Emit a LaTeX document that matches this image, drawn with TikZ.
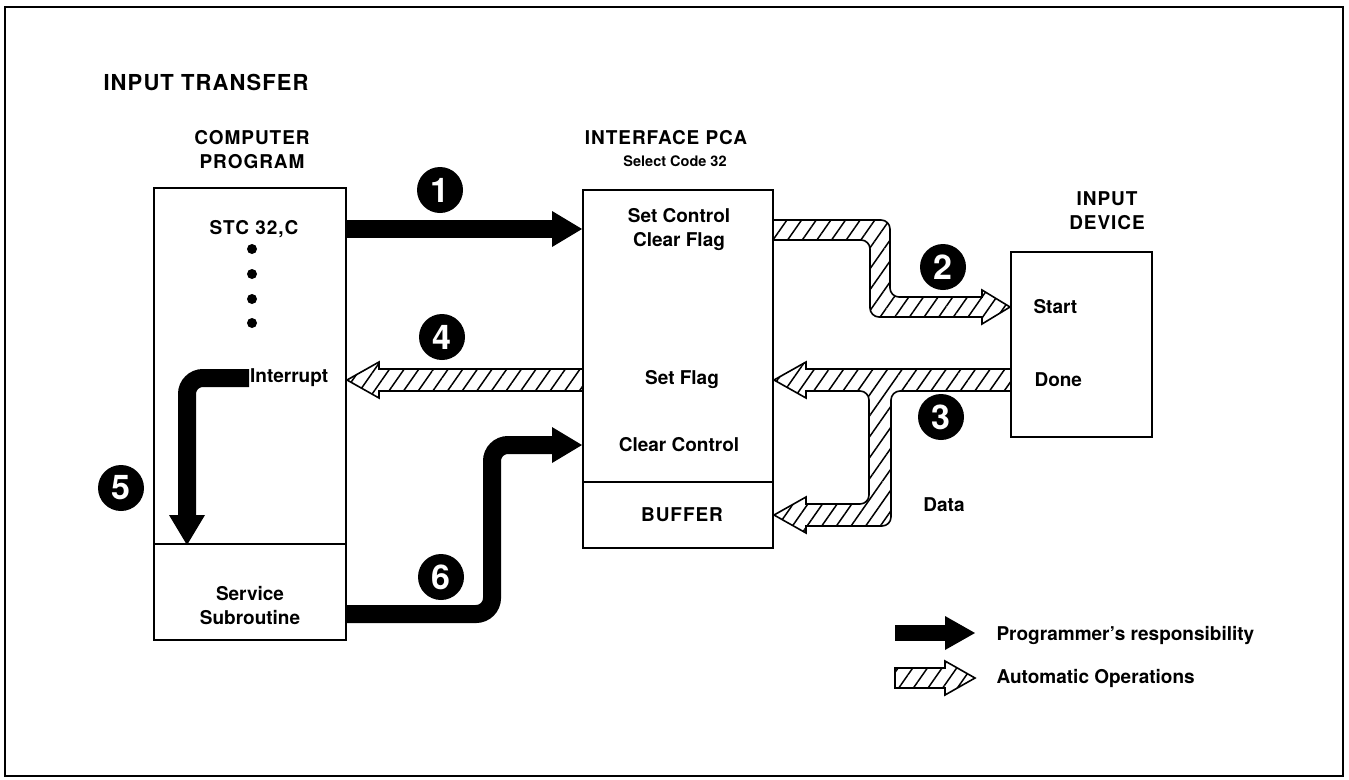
\documentclass[tikz,border=0pt]{standalone}
\usepackage{fontspec}
\setmainfont{TeX Gyre Heros}
\usetikzlibrary{calc,arrows.meta,patterns.meta}

\tikzset{
  box/.style={draw, line width=2pt, inner sep=0pt},
  lbl/.style={font=\fontsize{19}{24}\selectfont\bfseries, align=center},
  caps/.style={lbl, font=\fontsize{19}{24}\selectfont\bfseries\addfontfeature{LetterSpace=5}},
  small/.style={font=\fontsize{14.5}{17}\selectfont\bfseries},
  badge/.style={circle, fill=black, text=white, minimum size=46pt, inner sep=0pt,
    font=\fontsize{34}{34}\selectfont\bfseries},
  dot/.style={circle, fill=black, minimum size=10pt, inner sep=0pt},
  progarrow/.style={line width=18pt, -{Triangle[length=30pt,width=36pt,line width=0pt]}},
  autoarrow/.style={draw, line width=1.6pt,
    pattern={Lines[angle=55,distance=12pt,line width=1.5pt]}}
}

\begin{document}
\begin{tikzpicture}[x=1pt,y=-1pt]
\useasboundingbox (0,0) rectangle (1349,779);
\draw[line width=1.6pt] (5,7) rectangle (1343,776);

% headings
\node[caps, font=\fontsize{22}{24}\selectfont\bfseries\addfontfeature{LetterSpace=5}, anchor=west] (title) at (100,82) {INPUT TRANSFER};
\node[caps] (proghead) at (252,150) {COMPUTER\\PROGRAM};
\node[caps] (pcahead) at (666,138) {INTERFACE PCA};
\node[small] (selcode) at (675,161) {Select Code 32};
\node[caps] (devhead) at (1107,211) {INPUT\\DEVICE};

% boxes
\node[box, minimum width=192pt, minimum height=356pt] (prog) at (250,366) {};
\node[box, minimum width=192pt, minimum height=96pt] (sub) at (250,592) {};
\node[box, minimum width=190pt, minimum height=292pt] (pca) at (678,336) {};
\node[box, minimum width=190pt, minimum height=66pt] (buf) at (678,515) {};
\node[box, minimum width=141pt, minimum height=185pt] (dev) at (1081.5,344.5) {};

% texts in the boxes
\node[caps] (stc) at (254,229) {STC 32,C};
\foreach \y/\n in {249/1,274/2,299/3,323/4}
  \node[dot] (dot\n) at (252,\y) {};
\node[lbl, anchor=west, inner sep=1pt] (intr) at (249,378) {Interrupt};
\node[lbl] (subtxt) at (250,606) {Service\\Subroutine};
\node[lbl] (ctl) at (679,230) {Set Control\\Clear Flag};
\node[lbl] (sflag) at (682,380) {Set Flag};
\node[lbl] (clrctl) at (679,445) {Clear Control};
\node[caps] (buftxt) at (682,515) {BUFFER};
\node[lbl, anchor=west] (start) at (1030,307) {Start};
\node[lbl, anchor=west] (done) at (1031,380) {Done};
\node[lbl] (data) at (944,505) {Data};

% programmer's arrows
\draw[progarrow] (prog.east |- stc) -- (pca.west |- stc);
\draw[progarrow, rounded corners=16pt] (intr.west) -| ($(prog.south west)+(34,0)$);
\draw[progarrow, rounded corners=16pt] ($(sub.east)+(0,22)$) -- ++(145,0) |- (pca.west |- clrctl);

% automatic operations
\coordinate (s2) at (pca.east |- ctl);
\coordinate (t2) at (dev.west |- start);
\coordinate (k2) at ($(s2)+(106,0)$);
\path[autoarrow] ($(s2)+(0,-10)$) [rounded corners=9pt] -- ($(k2)+(10,-10)$)
  -- ($(k2 |- t2)+(10,-10)$) [sharp corners] -- ($(t2)+(-28,-10)$) -- ($(t2)+(-28,-17)$)
  -- (t2) -- ($(t2)+(-28,17)$) -- ($(t2)+(-28,10)$) [rounded corners=9pt]
  -- ($(k2 |- t2)+(-10,10)$) -- ($(k2)+(-10,10)$) [sharp corners] -- ($(s2)+(0,10)$);

\coordinate (s3) at (dev.west |- done);
\coordinate (t3) at (pca.east |- sflag);
\coordinate (u3) at (buf.east);
\coordinate (k3) at ($(s3)+(-130,0)$);
\path[autoarrow] ($(s3)+(0,-11)$) -- ($(t3)+(32,-11)$) -- ($(t3)+(32,-18)$) -- (t3)
  -- ($(t3)+(32,18)$) -- ($(t3)+(32,11)$) [rounded corners=9pt] -- ($(k3)+(-11,11)$)
  -- ($(k3 |- u3)+(-11,-11)$) [sharp corners] -- ($(u3)+(32,-11)$) -- ($(u3)+(32,-18)$)
  -- (u3) -- ($(u3)+(32,18)$) -- ($(u3)+(32,11)$) [rounded corners=9pt]
  -- ($(k3 |- u3)+(11,11)$) -- ($(k3)+(11,11)$) [sharp corners] -- ($(s3)+(0,11)$);

\coordinate (s4) at (pca.west |- sflag);
\coordinate (t4) at (prog.east |- sflag);
\path[autoarrow] ($(s4)+(0,-11)$) -- ($(t4)+(32,-11)$) -- ($(t4)+(32,-18)$) -- (t4)
  -- ($(t4)+(32,18)$) -- ($(t4)+(32,11)$) -- ($(s4)+(0,11)$);

% step numbers
\node[badge] (n1) at (440,190) {1};
\node[badge] (n2) at (943,267) {2};
\node[badge] (n3) at (941,417) {3};
\node[badge] (n4) at (442,337) {4};
\node[badge] (n5) at (121,488) {5};
\node[badge] (n6) at (441,577) {6};

% legend
\node[lbl, anchor=west] (lprog) at (993,635) {Programmer's responsibility};
\node[lbl, anchor=west] (lauto) at (993,678) {Automatic Operations};
\coordinate (lp) at ($(lprog.west)+(-98,-2)$);
\draw[progarrow, line width=16pt, -{Triangle[length=30pt,width=34pt,line width=0pt]}]
  (lp) -- ($(lprog.west)+(-18,-2)$);
\coordinate (la) at ($(lauto.west)+(-98,0)$);
\coordinate (lb) at ($(lauto.west)+(-18,0)$);
\path[autoarrow] ($(la)+(0,-10)$) -- ($(lb)+(-30,-10)$) -- ($(lb)+(-30,-17)$) -- (lb)
  -- ($(lb)+(-30,17)$) -- ($(lb)+(-30,10)$) -- ($(la)+(0,10)$) -- cycle;
\end{tikzpicture}
\end{document}
